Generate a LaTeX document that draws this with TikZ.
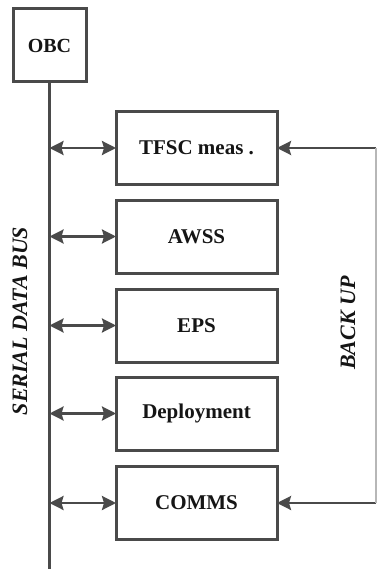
\documentclass[tikz,border=0pt]{standalone}
\usepackage{fontspec}
\setmainfont{Liberation Serif}
\usetikzlibrary{arrows.meta}
\definecolor{ln}{HTML}{4A4A4A}
\definecolor{tx}{HTML}{151515}
\tikzset{
  unit/.style={draw=ln, line width=3pt, fill=white, minimum width=161pt, minimum height=73pt, inner sep=0pt, outer sep=0pt, font=\fontsize{21}{24}\selectfont\bfseries, text=tx},
  obcbox/.style={unit, minimum width=73pt, minimum height=73pt, font=\fontsize{20}{24}\selectfont\bfseries},
  conn/.style={draw=ln, line width=2.5pt},
  hd/.tip={Stealth[length=14pt,width=14pt,inset=2pt]},
  tip/.style={-hd},
  biconn/.style={conn, hd-hd},
  side/.style={font=\fontsize{22}{26}\selectfont\bfseries\itshape, text=tx, rotate=90, inner sep=0pt}
}
\begin{document}
\begin{tikzpicture}[x=1pt,y=-1pt]
\useasboundingbox (0,0) rectangle (376,569);
\node[obcbox] (obc) at (49.5,45.5) {OBC};
\node[unit] (tfsc) at (196.5,148) {TFSC meas .};
\node[unit] (awss) at (196.5,236.5) {AWSS};
\node[unit] (eps) at (196.5,325.5) {EPS};
\node[unit] (dep) at (196.5,413.5) {Deployment};
\node[unit] (comms) at (196.5,503) {COMMS};
\coordinate (busend) at (49.5,569);
\coordinate (rt) at (376,148);
\coordinate (rb) at (376,503);
\draw[conn] (obc.south) -- (busend);
\foreach \b in {tfsc,awss,eps,dep,comms}{
  \draw[biconn] (obc.south |- \b.west) -- (\b.west);
}
\draw[conn, tip] (rt) -- (tfsc.east);
\draw[conn, tip] (rb) -- (comms.east);
\draw[draw=ln!40, line width=2pt] (rt) -- (rb);
\node[side] (bus) at (20,321) {SERIAL DATA BUS};
\node[side] (backup) at (348,323) {BACK UP};
\end{tikzpicture}
\end{document}
